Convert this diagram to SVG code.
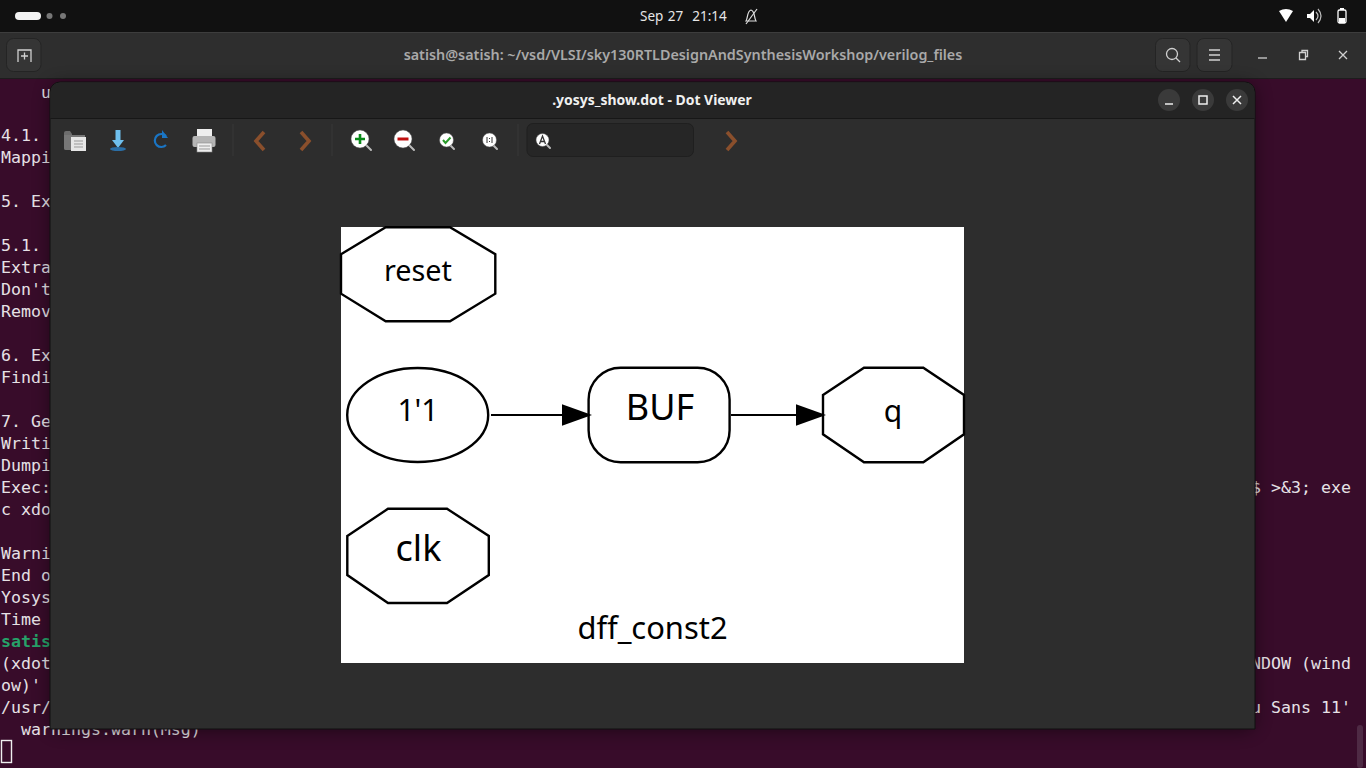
<svg xmlns="http://www.w3.org/2000/svg" width="1366" height="768" viewBox="0 0 1366 768">
<style>
.t{font-family:"DejaVu Sans Mono","Liberation Mono",monospace;font-size:16.6px;fill:#e6e1e6;white-space:pre}
.ui{font-family:"Noto Sans","Open Sans",sans-serif}
.g{font-family:"Noto Sans","Open Sans",sans-serif;fill:#000;text-anchor:middle}
.n{fill:#fff;stroke:#000;stroke-width:2.4}
.e{stroke:#000;stroke-width:2.2;fill:none;marker-end:url(#ah)}
.hb{fill:#353535;stroke:#242424;stroke-width:1}
.ic{fill:none;stroke:#d0d0d0;stroke-width:1.3}
.sep{stroke:#383838;stroke-width:1}
.lens{fill:#fff;stroke:#555;stroke-width:.5}
.handle{stroke:#bbb;stroke-width:2;stroke-linecap:round}
.nav{fill:none;stroke:#8a4f2c;stroke-width:3.6;stroke-linejoin:miter}
</style>
<defs>
<marker id="ah" markerUnits="userSpaceOnUse" markerWidth="32" markerHeight="24" refX="0" refY="11" orient="auto"><path d="M0 0.3L30 11L0 21.7Z" fill="#000"/></marker>
<filter id="sh" x="-5%" y="-5%" width="110%" height="110%"><feGaussianBlur stdDeviation="9"/></filter>
</defs>

<rect width="1366" height="768" fill="#380c2a"/>

<g id="terminal-text">
<text class="t" x="41" y="98">u</text>
<text class="t" x="1" y="141">4.1.</text>
<text class="t" x="1" y="163">Mappi</text>
<text class="t" x="1" y="207">5. Ex</text>
<text class="t" x="1" y="251">5.1.</text>
<text class="t" x="1" y="273">Extra</text>
<text class="t" x="1" y="295">Don't</text>
<text class="t" x="1" y="317">Remov</text>
<text class="t" x="1" y="361">6. Ex</text>
<text class="t" x="1" y="383">Findi</text>
<text class="t" x="1" y="427">7. Ge</text>
<text class="t" x="1" y="449">Writi</text>
<text class="t" x="1" y="471">Dumpi</text>
<text class="t" x="1" y="493">Exec:</text>
<text class="t" x="1" y="515">c xdo</text>
<text class="t" x="1" y="559">Warni</text>
<text class="t" x="1" y="581">End o</text>
<text class="t" x="1" y="603">Yosys</text>
<text class="t" x="1" y="625">Time</text>
<text class="t" x="1" y="647" style="fill:#26a269;font-weight:bold">satis</text>
<text class="t" x="1" y="669">(xdot</text>
<text class="t" x="1" y="691">ow)'</text>
<text class="t" x="1" y="713">/usr/</text>
<text class="t" x="21" y="735">warnings.warn(Msg)</text>
<text class="t" x="1251" y="493">$ &gt;&amp;3; exe</text>
<text class="t" x="1251" y="669">NDOW (wind</text>
<text class="t" x="1251" y="713">u Sans 11'</text>
<rect x="1.5" y="740.5" width="10" height="22" fill="none" stroke="#eee" stroke-width="1.4"/>
<rect x="1357" y="725" width="6" height="43" rx="3" fill="#4e2a44"/>
</g>

<g id="top-bar">
<rect width="1366" height="32" fill="#111"/>
<rect x="15" y="12" width="26" height="8" rx="4" fill="#f2f2f2"/>
<circle cx="49.5" cy="16" r="3" fill="#777"/>
<circle cx="63" cy="16" r="3" fill="#777"/>
<text class="ui" x="640" y="20.500" font-size="13.500" fill="#e6e6e6" xml:space="preserve" word-spacing="1">Sep 27  21:14</text>
<g fill="none" stroke="#ddd" stroke-width="1.200"><path d="M746 21C748 18 747 11 751 10C755 11 754 18 756 21Z"/><path d="M746 24L757 9"/></g>
<path d="M1279 11Q1286 7 1293 11L1286 22Z" fill="#fff"/>
<path d="M1307 14H1310L1314 10V22L1310 18H1307Z" fill="#fff"/>
<path d="M1316 12Q1320 16 1316 20M1318 9Q1324 16 1318 23" fill="none" stroke="#bbb" stroke-width="1.200"/>
<rect x="1338" y="10" width="8" height="13" rx="1.500" fill="none" stroke="#fff" stroke-width="1.300"/>
<rect x="1340" y="8" width="4" height="2" fill="#fff"/>
<rect x="1339" y="18" width="6" height="5" fill="#fff"/>
</g>

<g id="terminal-header">
<rect y="32" width="1366" height="46" fill="#2e2e2e"/>
<rect y="32" width="1366" height="1" fill="#3d3d3d"/>
<rect y="78" width="1366" height="1" fill="#1d1d1d"/>
<rect class="hb" x="6.500" y="38.500" width="34.500" height="33" rx="7"/>
<path class="ic" d="M18 62V50H31V62M21 56H28M24.500 52.500V59.500"/>
<text class="ui" x="683" y="60" font-size="14.350" font-weight="600" text-anchor="middle" fill="#a9a9a9">satish@satish: ~/vsd/VLSI/sky130RTLDesignAndSynthesisWorkshop/verilog_files</text>
<rect class="hb" x="1155.500" y="38.500" width="34.500" height="33" rx="7"/>
<circle class="ic" cx="1172" cy="54" r="5.500"/><path class="ic" d="M1176 58L1180 62"/>
<rect class="hb" x="1197" y="38.500" width="35" height="33" rx="7"/>
<path class="ic" d="M1209 50H1220M1209 55H1220M1209 60H1220"/>
<path class="ic" d="M1258 58H1267"/>
<path class="ic" d="M1299.500 52.500H1305.500V59.500H1299.500ZM1302 52.500V50.500H1307.500V56.500H1305.500" stroke-width="1"/>
<path class="ic" d="M1339 51L1347 59M1347 51L1339 59"/>
</g>

<rect x="50" y="84" width="1205" height="647" rx="10" fill="#000" opacity=".45" filter="url(#sh)"/>

<g id="viewer-window">
<path d="M50 729V92A10 10 0 0 1 60 82H1245A10 10 0 0 1 1255 92V729Z" fill="#2d2d2d" stroke="#111" stroke-width="1"/>
<path d="M50.500 118V92A9.500 9.500 0 0 1 60 82.500H1245A9.500 9.500 0 0 1 1254.500 92V118Z" fill="#242424"/>
<rect x="50.500" y="118" width="1204" height="1" fill="#171717"/>
<text class="ui" x="652" y="105" font-size="13.950" font-weight="700" text-anchor="middle" fill="#f0f0f0">.yosys_show.dot - Dot Viewer</text>
<circle cx="1169" cy="100" r="11" fill="#3a3a3a"/><path d="M1165 104H1173" stroke="#eee" stroke-width="1.500"/>
<circle cx="1203" cy="100" r="11" fill="#3a3a3a"/><rect x="1199" y="96" width="8" height="8" fill="none" stroke="#eee" stroke-width="1.500"/>
<circle cx="1237" cy="100" r="11" fill="#3a3a3a"/><path d="M1233 96L1241 104M1241 96L1233 104" stroke="#eee" stroke-width="1.500"/>
</g>

<g id="toolbar">
<path d="M64 133V148Q64 150 66 150H72V134L70 131H66Q64 131 64 133Z" fill="#6c6c6c"/>
<path d="M64 135H85V148Q85 150 83 150H66Q64 150 64 148Z" fill="#777"/>
<rect x="71" y="137" width="15" height="14" fill="#e6e6e6"/>
<path d="M74 141H83M74 144H83M74 147H83" stroke="#999" stroke-width="1"/>
<path d="M115.500 130H120.500V140H124L118 148L112 140H115.500Z" fill="#6fc0ee"/>
<ellipse cx="118" cy="149" rx="8" ry="2" fill="#2b6ea5"/>
<path d="M166 136A6.500 6.500 0 1 0 166 145" fill="none" stroke="#1a75c4" stroke-width="2.200"/>
<path d="M162 130V138H168Z" fill="#1a75c4"/>
<rect x="197" y="129" width="15" height="8" fill="#eee"/>
<rect x="192.500" y="136" width="23" height="11" rx="2" fill="#b5b5b5"/>
<rect x="197" y="143" width="15" height="9" fill="#eee" stroke="#888" stroke-width=".600"/>
<path d="M199 146H210M199 149H210" stroke="#999"/>
<path class="nav" d="M264 132L256 141L264 150"/>
<path class="nav" d="M301 132L309 141L301 150"/>
<path class="nav" d="M727 132L735 141L727 150"/>
<path class="sep" d="M233 124V156M332 124V156M518 124V156"/>
<path class="handle" d="M366 145L371 150"/><circle class="lens" cx="360" cy="139" r="9"/><path d="M355 139H365M360 134V144" stroke="#0a8a1a" stroke-width="2.600"/>
<path class="handle" d="M409 145L414 150"/><circle class="lens" cx="403" cy="139" r="9"/><path d="M397.500 139H408.500" stroke="#c01010" stroke-width="3"/>
<path class="handle" d="M450 145L454 149"/><circle class="lens" cx="446.500" cy="140" r="7"/><path d="M443 140L445.500 143L450.500 137.500" fill="none" stroke="#2a9a2a" stroke-width="2"/>
<path class="handle" d="M493 145L497 149"/><circle class="lens" cx="489.500" cy="140" r="7"/><path d="M487 137V143M492 137V143M489.500 138V139M489.500 141V142" stroke="#333" stroke-width="1"/>
<rect x="527" y="123.500" width="166.500" height="33" rx="6" fill="#262626" stroke="#1f1f1f"/>
<path class="handle" d="M546 144L550 148" stroke-width="1.500"/><circle class="lens" cx="542.500" cy="140" r="6.500"/>
<path d="M539.500 144L542.500 136L545.500 144M540.500 141.500H544.500" fill="none" stroke="#333" stroke-width="1.300"/>
</g>

<rect id="canvas" x="341" y="227" width="623" height="436" fill="#fff"/>

<g id="node-reset">
<path class="n" d="M341 254.300L385.700 227.300H450L495.300 254.300V293.700L450 321.300H385.700L341 293.700Z"/>
<text class="g" x="418" y="280.500" font-size="28.800">reset</text>
</g>
<g id="node-const">
<ellipse class="n" cx="417.700" cy="415" rx="70.500" ry="47"/>
<text class="g" x="418" y="420.500" font-size="30">1'1</text>
</g>
<g id="node-buf">
<rect class="n" x="588.600" y="367.800" width="141" height="94.500" rx="32" ry="32"/>
<text class="g" x="660" y="419.500" font-size="36">BUF</text>
</g>
<g id="node-q">
<path class="n" d="M823 395L864 367.800H923.300L964 395V434.300L923.300 462.300H864L823 434.300Z"/>
<text class="g" x="893" y="422" font-size="30">q</text>
</g>
<g id="node-clk">
<path class="n" d="M347.300 536L388 508.800H447L488.800 536V575L447 603H388L347.300 575Z"/>
<text class="g" x="418.500" y="560.500" font-size="36">clk</text>
</g>
<text id="graph-title" class="g" x="652.500" y="638.500" font-size="30.900">dff_const2</text>

<g id="connectors">
<path class="e" d="M491 415H562"/>
<path class="e" d="M731 415H796"/>
</g>
</svg>
